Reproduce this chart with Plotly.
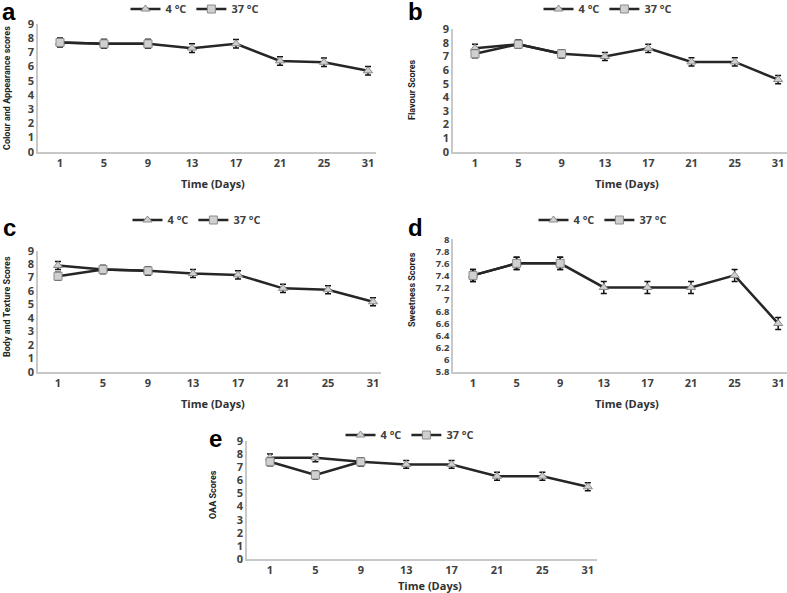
import plotly.graph_objects as go

days = ["1", "5", "9", "13", "17", "21", "25", "31"]
days_37 = ["1", "5", "9"]

colour_4 = [7.7, 7.6, 7.6, 7.3, 7.6, 6.4, 6.3, 5.7]
colour_37 = [7.7, 7.6, 7.6]
flavour_4 = [7.6, 7.9, 7.2, 7.0, 7.6, 6.6, 6.6, 5.3]
flavour_37 = [7.2, 7.9, 7.2]
body_4 = [7.9, 7.6, 7.5, 7.3, 7.2, 6.2, 6.1, 5.2]
body_37 = [7.1, 7.6, 7.5]
sweet_4 = [7.4, 7.6, 7.6, 7.2, 7.2, 7.2, 7.4, 6.6]
sweet_37 = [7.4, 7.6, 7.6]
oaa_4 = [7.7, 7.7, 7.4, 7.2, 7.2, 6.3, 6.3, 5.5]
oaa_37 = [7.4, 6.4, 7.4]

err_main = 0.3
err_sweet = 0.1

W, H = 787, 593

def fx(p):
    return p / W

def fy(p):
    return 1 - p / H

panels = [
    ("", colour_4, colour_37, err_main, 38, 376, 24, 151.7, [0, 9], 1, 60, 44.0,
     "Colour and Appearance scores", (7, 88), "a", (9, 11), (195, 9), (213, 183), 11),
    ("2", flavour_4, flavour_37, err_main, 453, 787, 29.3, 151.7, [0, 9], 1, 475, 43.3,
     "Flavour Scores", (412, 90), "b", (415, 11), (608, 9), (627, 183), 11),
    ("3", body_4, body_37, err_main, 38, 381, 250.7, 371.7, [0, 9], 1, 58, 45.0,
     "Body and Texture Scores", (7, 307), "c", (9, 228), (197, 220), (213, 403), 11),
    ("4", sweet_4, sweet_37, err_sweet, 453, 787, 239.3, 371.7, [5.8, 8.0], 0.2, 473, 43.6,
     "Sweetness Scores", (412, 290), "d", (415, 228), (603, 220), (627, 403), 9.5),
    ("5", oaa_4, oaa_37, err_main, 247, 597, 440.7, 559.3, [0, 9], 1, 270, 45.4,
     "OAA Scores", (213, 495), "e", (215, 438), (410, 435), (430, 585), 11),
]

fig = go.Figure()
annotations = []
layout_extra = {}

line_col = "#262626"

for i, (sid, v4, v37, err, xl, xr, yt, yb, yr, dt, c0, sp,
        ytitle, ypos, lab, labpos, legpos, xtpos, yfs) in enumerate(panels):
    xa = "x" + sid
    ya = "y" + sid
    leg = "legend" + sid
    fig.add_trace(go.Scatter(
        x=days, y=v4, name="4 °C", mode="lines+markers",
        xaxis=xa, yaxis=ya, legend=leg,
        line=dict(color=line_col, width=2.5),
        marker=dict(symbol="triangle-up", size=8, color="#d0d0d0",
                    line=dict(color="#8a8a8a", width=1)),
        error_y=dict(type="constant", value=err, color="#111111", thickness=1.5, width=3),
    ))
    fig.add_trace(go.Scatter(
        x=days_37, y=v37, name="37 °C", mode="lines+markers",
        xaxis=xa, yaxis=ya, legend=leg,
        line=dict(color=line_col, width=2.5),
        marker=dict(symbol="square", size=8, color="#d0d0d0",
                    line=dict(color="#8a8a8a", width=1)),
        error_y=dict(type="constant", value=err, color="#111111", thickness=1.5, width=3),
    ))
    left = (xl - c0) / sp
    right = (xr - c0) / sp
    layout_extra["xaxis" + sid] = dict(
        type="category", domain=[fx(xl), fx(xr)], anchor=ya,
        range=[left, right], showgrid=False, zeroline=False,
        showline=True, linecolor="#c8c8c8", linewidth=1.5,
        ticks="", tickfont=dict(family="Open Sans", size=11, color="#404040", weight="bold"),
        fixedrange=True, automargin=False,
    )
    layout_extra["yaxis" + sid] = dict(
        domain=[fy(yb), fy(yt)], anchor=xa, range=yr, dtick=dt,
        tick0=yr[0], showgrid=False, zeroline=False,
        showline=True, linecolor="#c8c8c8", linewidth=1.5,
        ticks="", tickfont=dict(family="Open Sans", size=yfs, color="#404040", weight="bold"),
        fixedrange=True, tickformat="~g", automargin=False,
    )
    layout_extra[leg] = dict(
        orientation="h", x=fx(legpos[0]), y=fy(legpos[1]),
        xanchor="center", yanchor="middle",
        font=dict(family="Open Sans", size=11, color="#404040", weight="bold"),
        bgcolor="rgba(0,0,0,0)", itemwidth=30, tracegroupgap=0,
    )
    annotations.append(dict(
        text=ytitle, x=fx(ypos[0]), y=fy(ypos[1]), xref="paper", yref="paper",
        textangle=-90, showarrow=False, xanchor="center", yanchor="middle",
        font=dict(family="Roboto", size=9, color="#222222", weight="bold"),
    ))
    annotations.append(dict(
        text=lab, x=fx(labpos[0]), y=fy(labpos[1]), xref="paper", yref="paper",
        showarrow=False, xanchor="center", yanchor="middle",
        font=dict(family="Liberation Sans", size=24, color="#000000", weight="bold"),
    ))
    annotations.append(dict(
        text="Time (Days)", x=fx(xtpos[0]), y=fy(xtpos[1]), xref="paper", yref="paper",
        showarrow=False, xanchor="center", yanchor="middle",
        font=dict(family="Open Sans", size=11, color="#303030", weight="bold"),
    ))

fig.update_layout(
    width=W, height=H, margin=dict(l=0, r=0, t=0, b=0, autoexpand=False),
    paper_bgcolor="white", plot_bgcolor="white",
    showlegend=True, annotations=annotations, **layout_extra,
)

fig.write_html(
    "out.html",
    config={"displayModeBar": False},
    post_script="document.body.style.margin='0';document.body.style.overflow='hidden';",
)
